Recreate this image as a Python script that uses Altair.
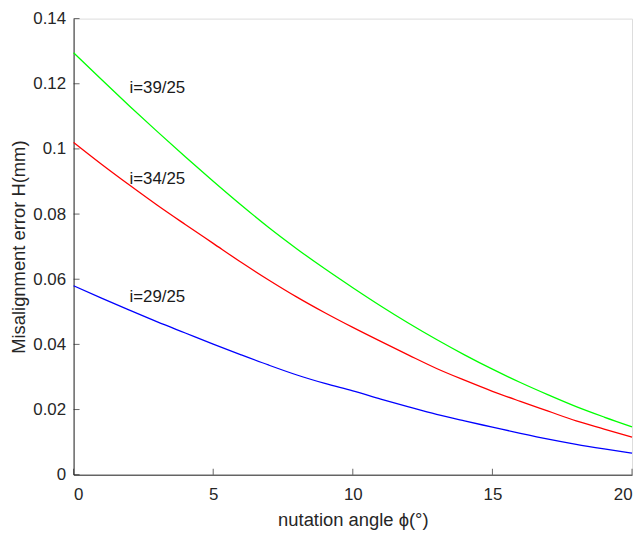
import altair as alt
import pandas as pd

phi = list(range(0, 21))
h_39 = [0.1295, 0.1213, 0.1132, 0.1053, 0.0976, 0.0901, 0.0828, 0.0758, 0.0693, 0.0632,
        0.0574, 0.0518, 0.0465, 0.0415, 0.0368, 0.0324, 0.0283, 0.0245, 0.0209, 0.0177, 0.0147]
h_34 = [0.1020, 0.0953, 0.0889, 0.0827, 0.0768, 0.0710, 0.0652, 0.0597, 0.0545, 0.0497,
        0.0452, 0.0409, 0.0367, 0.0326, 0.0290, 0.0256, 0.0225, 0.0195, 0.0165, 0.0140, 0.0115]
h_29 = [0.0580, 0.0542, 0.0505, 0.0469, 0.0435, 0.0401, 0.0368, 0.0336, 0.0306, 0.0280,
        0.0257, 0.0232, 0.0208, 0.0185, 0.0165, 0.0146, 0.0127, 0.0109, 0.0093, 0.0079, 0.0066]
series_names = ["i=39/25", "i=34/25", "i=29/25"]
series_colors = ["#00ff00", "#ff0000", "#0000ff"]

label_x = [2.0, 2.0, 2.0]
label_y = [0.1188, 0.0907, 0.0545]

x_ticks = [0, 5, 10, 15, 20]
y_ticks = [0, 0.02, 0.04, 0.06, 0.08, 0.1, 0.12, 0.14]

rows = []
for name, vals in zip(series_names, [h_39, h_34, h_29]):
    for p, v in zip(phi, vals):
        rows.append({"phi": p, "H": v, "series": name})
df = pd.DataFrame(rows)
lab_df = pd.DataFrame({"x": label_x, "y": label_y, "text": series_names})
xt_df = pd.DataFrame({"v": x_ticks})
yt_df = pd.DataFrame({"v": y_ticks})

FONT = "Liberation Sans"
AX = "#262626"
W, H = 562, 459

xscale = alt.Scale(domain=[0, 20], nice=False, zero=False)
yscale = alt.Scale(domain=[0, 0.14], nice=False)

lines = alt.Chart(df).mark_line(strokeWidth=1.3, interpolate="monotone").encode(
    x=alt.X("phi:Q", scale=xscale,
            axis=alt.Axis(title="nutation angle ϕ(°)", values=x_ticks, grid=False, ticks=False,
                          format="~g", domainColor=AX, labelColor=AX, titleColor=AX,
                          labelFontSize=17, titleFontSize=18.5, titleFontWeight="normal",
                          labelPadding=12, titlePadding=8, labelFont=FONT, titleFont=FONT)),
    y=alt.Y("H:Q", scale=yscale,
            axis=alt.Axis(title="Misalignment error H(mm)", values=y_ticks, grid=False, ticks=False,
                          format="~g", domainColor=AX, labelColor=AX, titleColor=AX,
                          labelFontSize=17, titleFontSize=18.5, titleFontWeight="normal",
                          labelPadding=8, titlePadding=4, labelFont=FONT, titleFont=FONT)),
    color=alt.Color("series:N", scale=alt.Scale(domain=series_names, range=series_colors), legend=None),
)

labels = alt.Chart(lab_df).mark_text(align="left", baseline="middle", font=FONT, fontSize=17,
                                     color="#1a1a1a").encode(
    x=alt.X("x:Q", scale=xscale), y=alt.Y("y:Q", scale=yscale), text="text:N")

xticks = alt.Chart(xt_df).mark_tick(orient="vertical", size=6, thickness=1, color=AX).encode(
    x=alt.X("v:Q", scale=xscale), y=alt.value(H - 3))
yticks = alt.Chart(yt_df).mark_tick(orient="horizontal", size=6, thickness=1, color=AX).encode(
    y=alt.Y("v:Q", scale=yscale), x=alt.value(3))

chart = alt.layer(lines, labels, xticks, yticks).properties(
    width=W, height=H,
    autosize=alt.AutoSizeParams(type="none"),
    padding={"left": 66, "top": 9, "right": 4, "bottom": 55},
).configure_view(strokeWidth=0, stroke="transparent").configure(background="white")

chart.save("out.html", embed_options={"renderer": "svg", "actions": False})
